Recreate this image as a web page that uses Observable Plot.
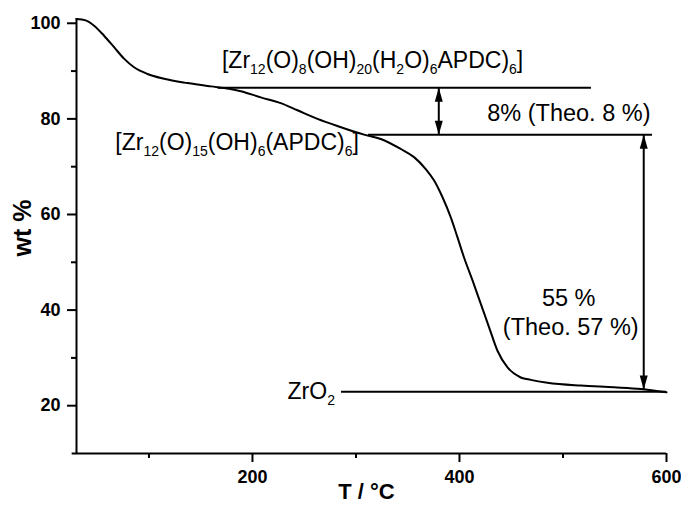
<!DOCTYPE html>
<html>
<head>
<meta charset="utf-8">
<script src="https://cdn.jsdelivr.net/npm/d3@7"></script>
<script src="https://cdn.jsdelivr.net/npm/@observablehq/plot@0.6"></script>
<style>
  html, body { margin: 0; padding: 0; background: #fff; overflow: hidden; }
  #chart svg { display: block; }
</style>
</head>
<body>
<div id="chart"></div>
<script>
// TGA curve: temperature (°C) and weight (%)
const temperature = [30, 38.9, 47.0, 56.6, 66.3, 75.9, 85.6, 98.6, 114.6, 137.2, 159.7, 177.4, 188.7, 208.0, 227.3, 243.5, 262.8, 283.5, 307.8, 324.0, 343.3, 356.1, 367.4, 375.5, 383.6, 391.6, 398.1, 404.4, 412.6, 420.6, 428.6, 436.7, 446.4, 459.2, 468.9, 485.0, 517.2, 549.4, 575.2, 600];
const weight = [100.9, 100.6, 99.5, 97.4, 95.0, 92.6, 90.8, 89.4, 88.4, 87.5, 86.8, 86.3, 85.8, 84.5, 83.3, 81.8, 80.0, 78.4, 76.7, 75.8, 73.7, 72.0, 69.5, 67.1, 63.6, 59.4, 55.2, 51.0, 46.2, 41.3, 36.4, 31.5, 28.0, 25.9, 25.4, 24.8, 24.2, 23.85, 23.5, 22.8];

// Plateau level lines
const levelWeight = [86.5, 76.7, 22.9];
const levelStart = [167, 312, 286];
const levelEnd = [527.5, 586.5, 600];

// Double arrows (mass losses)
const arrowT = [380, 578];
const arrowTop = [86.5, 76.7];
const arrowBottom = [76.7, 23.4];

// Ticks
const yMajorTicks = [20, 40, 60, 80, 100];
const yMinorTicks = [30, 50, 70, 90];
const xMajorTicks = [200, 400, 600];
const xMinorTicks = [100, 300, 500];

// Annotation texts: segments [text, isSubscript]
const annotations = [
  {T: 171, w: 90.5, anchor: "start", size: 23, parts: [["[Zr",0],["12",1],["(O)",0],["8",1],["(OH)",0],["20",1],["(H",0],["2",1],["O)",0],["6",1],["APDC)",0],["6",1],["]",0]]},
  {T: 427.3, w: 79.4, anchor: "start", size: 23.5, parts: [["8% (Theo. 8 %)",0]]},
  {T: 68, w: 73.4, anchor: "start", size: 23, parts: [["[Zr",0],["12",1],["(O)",0],["15",1],["(OH)",0],["6",1],["(APDC)",0],["6",1],["]",0]]},
  {T: 506, w: 40.7, anchor: "middle", size: 23.5, parts: [["55 %",0]]},
  {T: 508, w: 34.7, anchor: "middle", size: 23.5, parts: [["(Theo. 57 %)",0]]},
  {T: 234.4, w: 21.4, anchor: "start", size: 23, parts: [["ZrO",0],["2",1]]}
];

const curve = temperature.map((t, i) => ({t, w: weight[i]}));
const levels = levelWeight.map((w, i) => ({w, x1: levelStart[i], x2: levelEnd[i]}));
const arrows = arrowT.map((t, i) => ({t, top: arrowTop[i], bottom: arrowBottom[i]}));

// tip at the anchor point; body below (points up) / body above (points down)
const upHead = {draw(ctx) { ctx.moveTo(0, 0); ctx.lineTo(-4, 14); ctx.lineTo(4, 14); ctx.closePath(); }};
const downHead = {draw(ctx) { ctx.moveTo(0, 0); ctx.lineTo(-4, -14); ctx.lineTo(4, -14); ctx.closePath(); }};

const FONT = "'Liberation Sans', Arial, Helvetica, sans-serif";

const plot = Plot.plot({
  width: 681,
  height: 505,
  marginTop: 18,
  marginRight: 15,
  marginBottom: 52,
  marginLeft: 76,
  style: {fontFamily: FONT, background: "#fff", color: "#000"},
  x: {domain: [30, 600]},
  y: {domain: [10, 101]},
  marks: [
    Plot.axisY(yMajorTicks, {tickSize: 9, tickPadding: 7, strokeWidth: 2, fontSize: 18, fontWeight: "bold", label: null, tickFormat: d => String(d)}),
    Plot.axisY(yMinorTicks, {tickSize: 5, strokeWidth: 2, label: null, tickFormat: () => ""}),
    Plot.axisX(xMajorTicks, {tickSize: 9, tickPadding: 8, strokeWidth: 2, fontSize: 18, fontWeight: "bold", label: null, tickFormat: d => String(d)}),
    Plot.axisX(xMinorTicks, {tickSize: 5, strokeWidth: 2, label: null, tickFormat: () => ""}),
    Plot.ruleX([30], {y1: 10, y2: 101, stroke: "#000", strokeWidth: 2}),
    Plot.ruleY([10], {x1: 25.8, x2: 600, stroke: "#000", strokeWidth: 2}),
    Plot.ruleY(levels, {y: "w", x1: "x1", x2: "x2", stroke: "#000", strokeWidth: 2}),
    Plot.ruleX(arrows, {x: "t", y1: "top", y2: "bottom", stroke: "#000", strokeWidth: 2}),
    Plot.dot(arrows, {x: "t", y: "top", symbol: upHead, fill: "#000", stroke: "none", r: 4}),
    Plot.dot(arrows, {x: "t", y: "bottom", symbol: downHead, fill: "#000", stroke: "none", r: 4}),
    Plot.line(curve, {x: "t", y: "w", curve: "monotone-x", stroke: "#000", strokeWidth: 2})
  ]
});

const xs = plot.scale("x");
const ys = plot.scale("y");
const svg = d3.select(plot);

for (const a of annotations) {
  const t = svg.append("text")
    .attr("x", xs.apply(a.T))
    .attr("y", ys.apply(a.w))
    .attr("text-anchor", a.anchor)
    .attr("font-family", FONT)
    .attr("font-size", a.size)
    .attr("fill", "#000");
  let prevSub = false;
  for (const [s, sub] of a.parts) {
    const sp = t.append("tspan").text(s);
    if (sub) sp.attr("font-size", 14);
    if (sub && !prevSub) sp.attr("dy", 6);
    if (!sub && prevSub) sp.attr("dy", -6);
    prevSub = !!sub;
  }
}

// Axis titles
svg.append("text")
  .attr("x", 366.5).attr("y", 499)
  .attr("text-anchor", "middle")
  .attr("font-family", FONT).attr("font-size", 22).attr("font-weight", "bold")
  .attr("fill", "#000")
  .text("T / °C");
svg.append("text")
  .attr("transform", "translate(31,228) rotate(-90)")
  .attr("text-anchor", "middle")
  .attr("font-family", FONT).attr("font-size", 25).attr("font-weight", "bold")
  .attr("fill", "#000")
  .text("wt %");

document.getElementById("chart").appendChild(plot);
</script>
</body>
</html>
